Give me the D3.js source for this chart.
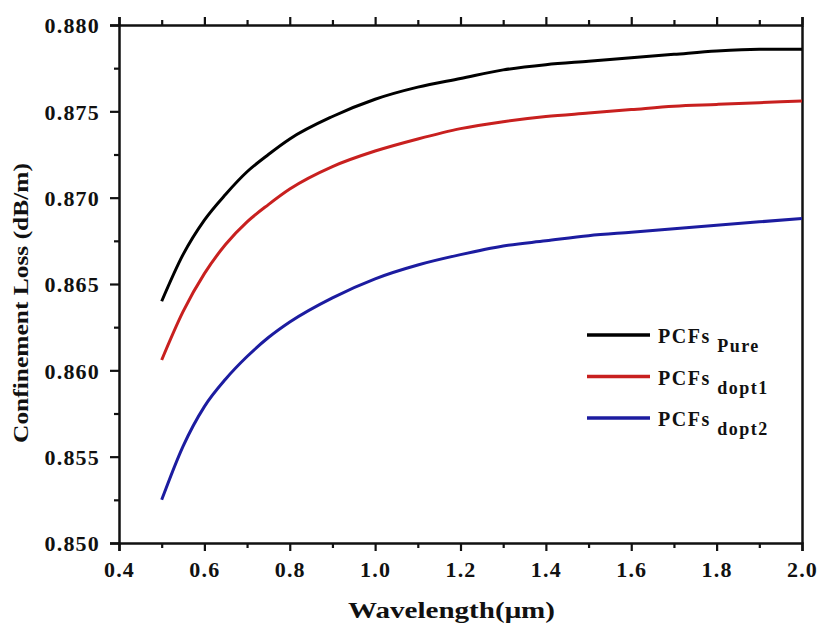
<!DOCTYPE html>
<html>
<head>
<meta charset="utf-8">
<script src="https://cdn.jsdelivr.net/npm/d3@7"></script>
<style>
  body { margin: 0; background: #fff; }
</style>
</head>
<body>
<div id="chart"></div>
<script>
// data
var wavelength = [0.5, 0.55, 0.6, 0.65, 0.7, 0.75, 0.8, 0.9, 1.0, 1.1, 1.2, 1.3, 1.4, 1.5, 1.6, 1.7, 1.8, 1.9, 2.0];
var pure  = [0.8640, 0.8667, 0.8687, 0.8702, 0.8715, 0.8725, 0.8734, 0.8747, 0.8757, 0.8764, 0.8769, 0.8774, 0.8777, 0.8779, 0.8781, 0.8783, 0.8785, 0.8786, 0.8786];
var dopt1 = [0.8606, 0.8634, 0.8656, 0.8673, 0.8686, 0.8696, 0.8705, 0.8718, 0.8727, 0.8734, 0.8740, 0.8744, 0.8747, 0.8749, 0.8751, 0.8753, 0.8754, 0.8755, 0.8756];
var dopt2 = [0.8525, 0.8556, 0.8579, 0.8595, 0.8608, 0.8619, 0.8628, 0.8642, 0.8653, 0.8661, 0.8667, 0.8672, 0.8675, 0.8678, 0.8680, 0.8682, 0.8684, 0.8686, 0.8688];
var seriesNames = ["Pure", "dopt1", "dopt2"];
var seriesColors = ["#000000", "#c8201f", "#1c1ca0"];
var xTicks = [0.4, 0.6, 0.8, 1.0, 1.2, 1.4, 1.6, 1.8, 2.0];
var yTicks = [0.850, 0.855, 0.860, 0.865, 0.870, 0.875, 0.880];

var FONT = "'Times New Roman', 'Liberation Serif', serif";

var W = 818, H = 628;
var margin = { top: 25, right: 16, bottom: 85, left: 119 };
var w = W - margin.left - margin.right,
    h = H - margin.top - margin.bottom;

var svg = d3.select("#chart").append("svg")
    .attr("width", W)
    .attr("height", H)
    .append("g")
    .attr("transform", "translate(" + margin.left + "," + margin.top + ")");

var xScale = d3.scaleLinear().domain([0.4, 2.0]).range([0, w]);
var yScale = d3.scaleLinear().domain([0.850, 0.880]).range([h, 0]);

// minor ticks
var xMinor = d3.range(0.5, 2.0, 0.2);
var yMinor = d3.range(0.8525, 0.880, 0.005);

function styleAxis(g) {
    g.attr("font-family", FONT);
    g.select(".domain").attr("stroke", "#111").attr("stroke-width", 2.5);
    g.selectAll(".tick line").attr("stroke", "#111").attr("stroke-width", 2.2);
    g.selectAll("text")
        .style("font-family", FONT)
        .style("font-weight", "bold")
        .style("font-size", "22px")
        .style("letter-spacing", "1.2px")
        .attr("fill", "#111");
}

// bottom axis
svg.append("g")
    .attr("transform", "translate(0," + h + ")")
    .call(d3.axisBottom(xScale).tickValues(xTicks).tickFormat(d3.format(".1f")).tickSize(8).tickPadding(10))
    .call(styleAxis);
svg.append("g")
    .attr("transform", "translate(0," + h + ")")
    .call(d3.axisBottom(xScale).tickValues(xMinor).tickSize(5).tickFormat(""))
    .call(styleAxis)
    .call(function(g) { g.select(".domain").remove(); });

// top axis
svg.append("g")
    .call(d3.axisTop(xScale).tickValues(xTicks).tickSize(8).tickFormat(""))
    .call(styleAxis);
svg.append("g")
    .call(d3.axisTop(xScale).tickValues(xMinor).tickSize(5).tickFormat(""))
    .call(styleAxis)
    .call(function(g) { g.select(".domain").remove(); });

// left axis
svg.append("g")
    .call(d3.axisLeft(yScale).tickValues(yTicks).tickFormat(d3.format(".3f")).tickSize(9).tickPadding(10))
    .call(styleAxis)
    .call(function(g) { g.selectAll("text").attr("dy", "0.35em"); });
svg.append("g")
    .call(d3.axisLeft(yScale).tickValues(yMinor).tickSize(5).tickFormat(""))
    .call(styleAxis)
    .call(function(g) { g.select(".domain").remove(); });

// right axis, no ticks
svg.append("g")
    .attr("transform", "translate(" + w + ",0)")
    .call(d3.axisRight(yScale).tickValues([]).tickSizeOuter(0))
    .call(styleAxis);

// lines
var line = d3.line()
    .x(function(d) { return xScale(d[0]); })
    .y(function(d) { return yScale(d[1]); })
    .curve(d3.curveMonotoneX);

[pure, dopt1, dopt2].forEach(function(vals, i) {
    svg.append("path")
        .datum(wavelength.map(function(x, j) { return [x, vals[j]]; }))
        .attr("d", line)
        .style("fill", "none")
        .style("stroke", seriesColors[i])
        .style("stroke-width", 3);
});

// legend
var legend = svg.append("g").attr("transform", "translate(" + (587 - margin.left) + "," + (335 - margin.top) + ")");
seriesNames.forEach(function(name, i) {
    var gy = i * 41.5;
    legend.append("line")
        .attr("x1", 0).attr("x2", 63)
        .attr("y1", gy).attr("y2", gy)
        .attr("stroke", seriesColors[i])
        .attr("stroke-width", 3.5);
    var t = legend.append("text")
        .attr("x", 71)
        .attr("y", gy + 8)
        .style("font-family", FONT)
        .style("font-weight", "bold")
        .style("font-size", "20px")
        .style("letter-spacing", "1.5px")
        .attr("fill", "#111");
    t.append("tspan").text("PCFs ");
    t.append("tspan").attr("dy", 9).style("font-size", "18px").text(name);
});

// axis titles
svg.append("text")
    .attr("x", w / 2 - 9)
    .attr("y", h + 75)
    .attr("textLength", 207)
    .attr("lengthAdjust", "spacingAndGlyphs")
    .style("text-anchor", "middle")
    .style("font-family", FONT)
    .style("font-weight", "bold")
    .style("font-size", "23px")
    .attr("fill", "#111")
    .text("Wavelength(μm)");

svg.append("text")
    .attr("transform", "rotate(-90)")
    .attr("x", -(303 - margin.top))
    .attr("y", -91)
    .attr("textLength", 280)
    .attr("lengthAdjust", "spacingAndGlyphs")
    .style("text-anchor", "middle")
    .style("font-family", FONT)
    .style("font-weight", "bold")
    .style("font-size", "21px")
    .attr("fill", "#111")
    .text("Confinement Loss (dB/m)");
</script>
</body>
</html>
